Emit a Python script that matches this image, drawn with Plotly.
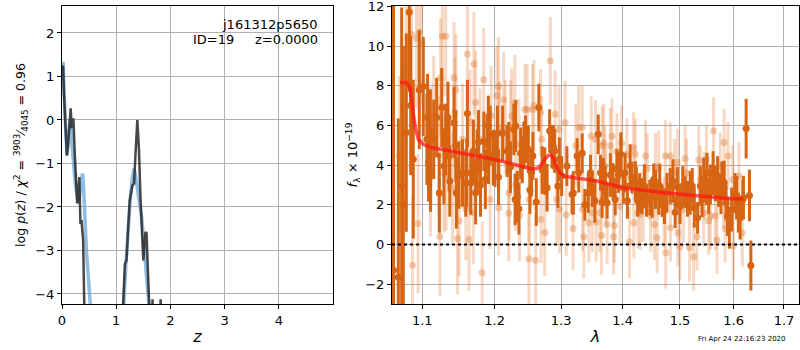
import plotly.graph_objects as go

# ---- redshift probability curves (left panel) ----
z_chi = [0.0, 0.02, 0.04, 0.07, 0.09, 0.11, 0.14, 0.16, 0.18, 0.21, 0.24, 0.28, 0.30, 0.32, 0.34,
         0.36, 0.39, 0.42, 0.45, 1.10, 1.13, 1.16, 1.19, 1.22, 1.25, 1.30, 1.33, 1.36, 1.39, 1.42,
         1.45, 1.50, 1.54, 1.56, 1.59, 1.62, 1.645, 1.67, 1.695, 1.795, 1.82, 1.845, 5.0]
logp_chi = [1.0, 1.25, 0.5, -0.5, -0.82, -0.6, 0.05, 0.27, -0.19, 0.04, -0.9, -1.92, -1.7, -1.31,
            -2.39, -2.3, -2.77, -4.3, -7.0, -7.0, -4.2, -3.31, -3.23, -2.5, -1.85, -1.5, -1.46,
            -0.69, 0.0, -0.69, -1.85, -3.23, -2.58, -2.6, -3.85, -4.5, -5.5, -4.12, -5.5, -5.5,
            -4.12, -5.5, -7.0]

z_fit = [0.0, 0.02, 0.04, 0.07, 0.09, 0.12, 0.15, 0.20, 0.25, 0.30, 0.33, 0.36, 0.38, 0.40, 0.45,
         0.52, 0.56, 1.10, 1.14, 1.18, 1.22, 1.26, 1.30, 1.33, 1.36, 1.40, 1.44, 1.47, 1.52, 1.56,
         1.60, 1.64, 5.0]
logp_fit = [1.2, 1.33, 0.6, -0.4, -0.8, -0.5, 0.0, -0.8, -1.5, -1.9, -1.7, -1.35, -1.23, -1.6,
            -3.0, -4.2, -7.0, -7.0, -4.2, -3.3, -2.4, -1.8, -1.3, -1.12, -1.3, -1.7, -2.0, -2.23,
            -2.9, -3.6, -4.2, -7.0, -7.0]

# ---- grism spectrum (right panel), flux in units of 1e-19 ----
wave_a = [1.0625, 1.0687, 1.0730, 1.0751, 1.0790, 1.0829, 1.0847, 1.0881, 1.0960, 1.1013,
          1.1061, 1.1070, 1.1083, 1.1107, 1.1110, 1.1152, 1.1192, 1.1227, 1.1260, 1.1290,
          1.1314, 1.1345, 1.1360, 1.1370, 1.1428, 1.1452, 1.1460, 1.1497, 1.1545, 1.1591,
          1.1604, 1.1614, 1.1660, 1.1697, 1.1729, 1.1752, 1.1770, 1.1798, 1.1845, 1.1867,
          1.1891, 1.1910, 1.1913, 1.1936, 1.1982, 1.2006, 1.2041, 1.2056, 1.2116, 1.2182,
          1.2206, 1.2231, 1.2281, 1.2300, 1.2307, 1.2332, 1.2356, 1.2382, 1.2406, 1.2431,
          1.2456, 1.2497, 1.2521, 1.2546, 1.2566, 1.2617, 1.2656, 1.2708, 1.2747, 1.2783,
          1.2822, 1.2858, 1.2882, 1.2899, 1.2949, 1.2973, 1.3009, 1.3091, 1.3172, 1.3193,
          1.3253, 1.3279, 1.3334, 1.3377, 1.3432, 1.3469, 1.3497, 1.3539, 1.3594, 1.3632,
          1.3659, 1.3680, 1.3711, 1.3740, 1.3794, 1.3838, 1.3875, 1.3903, 1.3929, 1.3968,
          1.4010, 1.4040, 1.4080, 1.4127, 1.4157, 1.4215, 1.4232, 1.4255, 1.4290, 1.4332,
          1.4372, 1.4407, 1.4464, 1.4506, 1.4534, 1.4564, 1.4621, 1.4639, 1.4681, 1.4721,
          1.4767, 1.4825, 1.4873, 1.4913, 1.4953, 1.5000, 1.5050, 1.5093, 1.5136, 1.5186,
          1.5223, 1.5261, 1.5322, 1.5372, 1.5404, 1.5434, 1.5484, 1.5497, 1.5527, 1.5559,
          1.5609, 1.5652, 1.5695, 1.5713, 1.5758, 1.5777, 1.5819, 1.5857, 1.5881, 1.5918,
          1.5963, 1.6026, 1.6059, 1.6091, 1.6125, 1.6178, 1.6190, 1.6243, 1.6308, 1.6336]
flux_a = [-1.30, -1.65, 2.95, 2.00, 5.64, 11.70, 7.00, 4.30, 7.80, 7.96,
          5.30, 6.40, 4.16, 5.72, 3.65, 5.30, 6.40, 2.60, 6.90, 3.95,
          5.30, 6.40, 4.46, 3.20, 6.15, 4.97, 2.60, 3.50, 3.60, 3.10,
          3.62, 6.60, 3.10, 4.70, 2.61, 4.20, 5.17, 3.00, 5.20, 3.28,
          5.10, 6.00, 4.55, 5.50, 4.38, 4.30, 5.60, 3.40, 5.60, 4.70,
          4.88, 3.90, 5.80, 2.27, 5.97, 2.40, 1.80, 4.60, 4.29, 5.00,
          5.30, 4.80, 2.74, 3.62, 4.46, 2.14, 6.90, 3.75, 3.70, 2.86,
          5.72, 4.93, 4.90, 4.71, 2.95, 4.30, 3.45, 3.95, 2.53, 2.60,
          4.46, 3.62, 4.60, 2.00, 2.60, 3.62, 2.78, 2.20, 5.55, 3.62,
          2.14, 3.45, 2.95, 2.10, 3.50, 3.20, 2.27, 3.80, 3.50, 4.55,
          2.86, 3.62, 2.20, 3.95, 3.37, 3.20, 3.03, 2.20, 2.60, 2.44,
          2.95, 2.20, 2.36, 2.36, 3.28, 2.78, 2.40, 2.95, 2.19, 1.93,
          2.60, 2.95, 3.20, 1.63, 2.90, 1.93, 2.95, 2.64, 2.30, 2.60,
          2.95, 1.85, 1.35, 2.95, 2.27, 3.28, 2.78, 3.62, 2.44, 3.03,
          3.60, 3.08, 3.45, 2.70, 2.53, 3.28, 3.12, 2.10, 1.43, 0.79,
          1.77, 2.60, 2.36, 1.60, 1.35, 2.27, 2.36, 5.84, 2.47, -1.06]
err_a = [14.0, 8.0, 9.0, 8.0, 5.0, 4.0, 3.5, 4.0, 3.0, 2.5,
         2.3, 2.2, 2.0, 2.1, 2.0, 2.0, 2.0, 2.0, 2.0, 1.9,
         1.8, 1.8, 1.8, 1.8, 1.8, 1.8, 1.8, 1.7, 1.7, 1.7,
         1.7, 1.7, 1.6, 1.6, 1.6, 1.6, 1.6, 1.6, 1.5, 1.5,
         1.5, 1.5, 1.5, 1.5, 1.4, 1.4, 1.4, 1.4, 1.4, 1.3,
         1.3, 1.3, 1.3, 1.3, 1.3, 1.3, 1.3, 1.3, 1.2, 1.2,
         1.2, 1.2, 1.2, 1.2, 1.2, 1.2, 1.2, 1.2, 1.2, 1.2,
         1.1, 1.1, 1.1, 1.1, 1.1, 1.1, 1.0, 1.0, 1.0, 1.1,
         0.9, 1.0, 1.0, 0.8, 1.0, 0.9, 0.9, 1.1, 1.0, 0.9,
         0.8, 0.9, 1.0, 0.8, 1.1, 0.9, 0.8, 1.0, 0.9, 1.1,
         0.8, 1.0, 0.9, 1.1, 0.8, 1.0, 0.9, 0.8, 1.0, 0.9,
         1.1, 0.8, 0.9, 1.0, 0.8, 1.0, 0.9, 1.1, 0.8, 0.9,
         1.0, 0.9, 1.1, 0.8, 1.0, 0.9, 1.0, 0.8, 0.9, 1.1,
         0.9, 1.0, 0.8, 1.0, 0.9, 1.1, 0.8, 1.0, 0.9, 1.0,
         1.1, 0.9, 1.0, 0.8, 1.0, 0.9, 1.1, 0.9, 1.0, 1.0,
         1.1, 1.0, 1.1, 1.0, 1.1, 1.0, 1.1, 1.5, 1.3, 1.26]

wave_b = [1.0703, 1.0785, 1.0858, 1.0871, 1.0923, 1.0945, 1.0960, 1.0992, 1.1107, 1.1115,
          1.1152, 1.1221, 1.1235, 1.1245, 1.1268, 1.1290, 1.1314, 1.1320, 1.1406, 1.1428,
          1.1440, 1.1455, 1.1476, 1.1498, 1.1545, 1.1591, 1.1614, 1.1636, 1.1650, 1.1697,
          1.1705, 1.1729, 1.1788, 1.1822, 1.1844, 1.1936, 1.1950, 1.2032, 1.2056, 1.2060,
          1.2070, 1.2131, 1.2156, 1.2206, 1.2210, 1.2231, 1.2250, 1.2296, 1.2307, 1.2356,
          1.2366, 1.2446, 1.2481, 1.2506, 1.2510, 1.2560, 1.2581, 1.2607, 1.2682, 1.2690,
          1.2700, 1.2747, 1.2832, 1.2907, 1.2930, 1.2968, 1.2975, 1.3063, 1.3080, 1.3188,
          1.3230, 1.3278, 1.3334, 1.3340, 1.3360, 1.3441, 1.3480, 1.3497, 1.3550, 1.3560,
          1.3620, 1.3647, 1.3659, 1.3685, 1.3700, 1.3720, 1.3740, 1.3794, 1.3821, 1.3847,
          1.3860, 1.3903, 1.3957, 1.3983, 1.4070, 1.4115, 1.4185, 1.4190, 1.4215, 1.4260,
          1.4302, 1.4349, 1.4390, 1.4419, 1.4480, 1.4546, 1.4564, 1.4594, 1.4620, 1.4715,
          1.4738, 1.4745, 1.4825, 1.4830, 1.4900, 1.4953, 1.4960, 1.5000, 1.5060, 1.5093,
          1.5120, 1.5173, 1.5248, 1.5310, 1.5341, 1.5372, 1.5434, 1.5447, 1.5484, 1.5527,
          1.5559, 1.5620, 1.5652, 1.5684, 1.5745, 1.5806, 1.5819, 1.5838, 1.5894, 1.5981,
          1.5993, 1.6103, 1.6168]
flux_b = [4.50, 8.80, 10.60, -1.05, 10.40, 1.06, 10.70, 10.10, 3.40, 4.97,
          6.50, 4.50, 0.40, 8.40, 10.50, 3.60, 10.50, 3.50, 2.86, 8.40,
          6.65, 7.80, 0.30, 1.20, 5.30, 1.80, 9.60, 0.25, 6.20, 1.60,
          9.10, 7.15, 5.30, -1.43, 8.30, 2.27, 6.50, 7.50, 7.96, 1.85,
          5.84, 7.30, 5.90, 1.57, 2.60, 5.90, 6.48, 7.15, 3.00, 5.05,
          1.46, 6.80, 6.80, -0.72, 2.27, 6.80, 7.00, -0.80, 6.65, 1.26,
          5.30, 0.60, 9.26, 6.57, 2.27, 5.80, 1.77, 6.15, 1.50, 0.80,
          4.97, 5.90, 5.90, 1.77, 0.39, 1.10, 5.47, 1.60, 5.30, 1.13,
          1.60, 0.45, 4.97, 5.10, 3.95, 2.95, 1.01, 4.97, 5.47, 0.39,
          0.96, 4.70, 1.93, 5.10, 4.55, 0.12, 4.88, 1.10, 4.55, 1.60,
          1.52, 1.93, 4.46, 3.82, 1.43, 1.01, 3.82, 0.34, 3.95, 1.60,
          4.46, -0.42, 4.46, 0.84, 3.62, 4.13, 0.59, -0.12, 1.77, 4.33,
          3.62, -0.17, -0.62, 0.39, 4.26, 3.28, 1.60, 2.95, 4.29, 1.18,
          1.43, 5.72, 1.43, 0.22, 3.95, 2.53, 5.14, 0.79, 4.46, 3.28,
          -0.08, 3.45, 0.59]
err_b = [4.0, 4.0, 3.5, 3.5, 3.5, 3.5, 3.5, 3.0, 3.0, 3.0,
         3.0, 3.0, 3.0, 3.0, 3.0, 3.0, 3.0, 2.8, 2.8, 2.8,
         2.8, 2.8, 2.8, 2.8, 2.8, 2.6, 2.6, 2.6, 2.6, 2.6,
         2.6, 2.6, 2.6, 2.6, 2.6, 2.5, 2.5, 2.5, 2.5, 2.4,
         2.4, 2.4, 2.4, 2.4, 2.4, 2.4, 2.4, 2.4, 2.3, 2.3,
         2.3, 2.3, 2.3, 2.3, 2.3, 2.3, 2.3, 2.3, 2.2, 2.2,
         2.2, 2.2, 2.2, 2.2, 2.2, 2.2, 2.2, 2.1, 2.1, 2.1,
         2.1, 2.1, 2.1, 2.1, 2.1, 2.0, 2.0, 2.0, 2.0, 2.0,
         2.0, 2.0, 2.0, 2.0, 2.0, 2.0, 2.0, 1.9, 1.9, 1.9,
         1.9, 1.9, 1.9, 1.9, 1.8, 1.8, 1.8, 1.8, 1.8, 1.8,
         1.8, 1.8, 1.8, 1.8, 1.8, 1.8, 1.8, 1.8, 1.8, 1.8,
         1.8, 1.8, 1.7, 1.7, 1.7, 1.7, 1.7, 1.7, 1.7, 1.7,
         1.7, 1.7, 1.7, 1.7, 1.7, 1.7, 1.7, 1.7, 1.7, 1.7,
         1.7, 1.7, 1.7, 1.7, 1.7, 1.7, 1.7, 1.7, 1.7, 1.7,
         1.7, 1.7, 1.7]

# best-fit template
wave_model = [1.0709, 1.0795, 1.0838, 1.0873, 1.0903, 1.0947, 1.1013, 1.1102, 1.1510, 1.1986,
              1.2480, 1.2557, 1.2640, 1.2700, 1.2750, 1.2800, 1.2840, 1.2880, 1.2920, 1.2960,
              1.3000, 1.3060, 1.3578, 1.4010, 1.4709, 1.5311, 1.5931, 1.6190]
flux_model = [8.17, 8.17, 7.90, 7.00, 5.97, 5.30, 5.05, 4.90, 4.60, 4.30,
              3.87, 3.79, 3.85, 4.05, 4.30, 4.48, 4.52, 4.35, 4.00, 3.70,
              3.55, 3.43, 3.20, 2.86, 2.61, 2.44, 2.31, 2.31]

z_ticks = [0, 1, 2, 3, 4]
logp_ticks = [-4, -3, -2, -1, 0, 1, 2]
wave_ticks = [1.1, 1.2, 1.3, 1.4, 1.5, 1.6, 1.7]
flux_ticks = [-2, 0, 2, 4, 6, 8, 10, 12]

FONT = "DejaVu Sans"
ORANGE = "rgb(214,100,18)"
GRID = "#b0b0b0"

fig = go.Figure()

fig.add_trace(go.Scatter(x=z_fit, y=logp_fit, mode="lines",
                         line=dict(color="rgba(105,165,215,0.75)", width=3.5),
                         xaxis="x", yaxis="y", hoverinfo="skip"))
fig.add_trace(go.Scatter(x=z_chi, y=logp_chi, mode="lines",
                         line=dict(color="rgba(40,40,40,0.85)", width=2.5),
                         xaxis="x", yaxis="y", hoverinfo="skip"))

fig.add_trace(go.Scatter(x=wave_b, y=flux_b, mode="markers",
                         marker=dict(color="rgba(225,120,50,0.38)", size=7),
                         error_y=dict(type="data", array=err_b, color="rgba(225,125,55,0.3)",
                                      thickness=3, width=0),
                         xaxis="x2", yaxis="y2", hoverinfo="skip"))
fig.add_trace(go.Scatter(x=wave_a, y=flux_a, mode="markers",
                         marker=dict(color=ORANGE, size=7),
                         error_y=dict(type="data", array=err_a, color=ORANGE,
                                      thickness=3, width=0),
                         xaxis="x2", yaxis="y2", hoverinfo="skip"))
fig.add_trace(go.Scatter(x=wave_model, y=flux_model, mode="lines",
                         line=dict(color="rgba(255,20,20,0.72)", width=3.5),
                         xaxis="x2", yaxis="y2", hoverinfo="skip"))

fig.add_shape(type="line", xref="x2 domain", yref="y2", x0=0, x1=1, y0=0, y1=0,
              line=dict(color="black", width=2, dash="dot"), layer="above")

axis_common = dict(showline=True, linecolor="black", linewidth=1, mirror=True,
                   showgrid=True, gridcolor=GRID, gridwidth=1, zeroline=False,
                   ticks="outside", ticklen=4, tickcolor="black",
                   ticklabeloverflow="allow", automargin=False,
                   tickfont=dict(family=FONT, size=13, color="black"))

ydom = [46 / 350, 344 / 350]
fig.update_layout(
    width=800, height=350, margin=dict(l=0, r=0, t=0, b=0, autoexpand=False),
    paper_bgcolor="white", plot_bgcolor="white", showlegend=False,
    font=dict(family=FONT, size=13, color="black"),
    xaxis=dict(axis_common, domain=[62 / 800, 333 / 800], range=[0, 5],
               tickvals=z_ticks, title=dict(text="<i>z</i>", standoff=4)),
    yaxis=dict(axis_common, domain=ydom, range=[-4.23, 2.62], tickvals=logp_ticks,
               title=dict(text="log <i>p</i>(<i>z</i>) / <i>χ</i><sup>2</sup> = "
                               "<sup>3903</sup>⁄<sub>4045</sub> = 0.96",
                          standoff=6, font=dict(size=12.5))),
    xaxis2=dict(axis_common, domain=[392 / 800, 799 / 800], type="log",
                range=[0.02555, 0.2383], tickvals=wave_ticks,
                ticktext=[f"{v:.1f}" for v in wave_ticks], anchor="y2",
                title=dict(text="<i>λ</i>", standoff=4)),
    yaxis2=dict(axis_common, domain=ydom, range=[-3, 12.02], tickvals=flux_ticks,
                anchor="x2",
                title=dict(text="<i>f</i><sub>λ</sub> × 10<sup>−19</sup>", standoff=4,
                           font=dict(size=13))),
)

fig.add_annotation(x=320 / 800, y=1 - 24 / 350, xref="paper", yref="paper",
                   text="j161312p5650", showarrow=False, xanchor="right", yanchor="middle",
                   font=dict(family=FONT, size=13))
fig.add_annotation(x=320 / 800, y=1 - 39 / 350, xref="paper", yref="paper",
                   text="ID=19\u00a0\u00a0\u00a0\u00a0\u00a0z=0.0000", showarrow=False,
                   xanchor="right", yanchor="middle", font=dict(family=FONT, size=13))
fig.add_annotation(x=788 / 800, y=1 - 339 / 350, xref="paper", yref="paper",
                   text="Fri Apr 24 22:16:23 2020", showarrow=False, xanchor="right",
                   yanchor="middle", font=dict(family=FONT, size=7))

fig.write_html("out.html")
